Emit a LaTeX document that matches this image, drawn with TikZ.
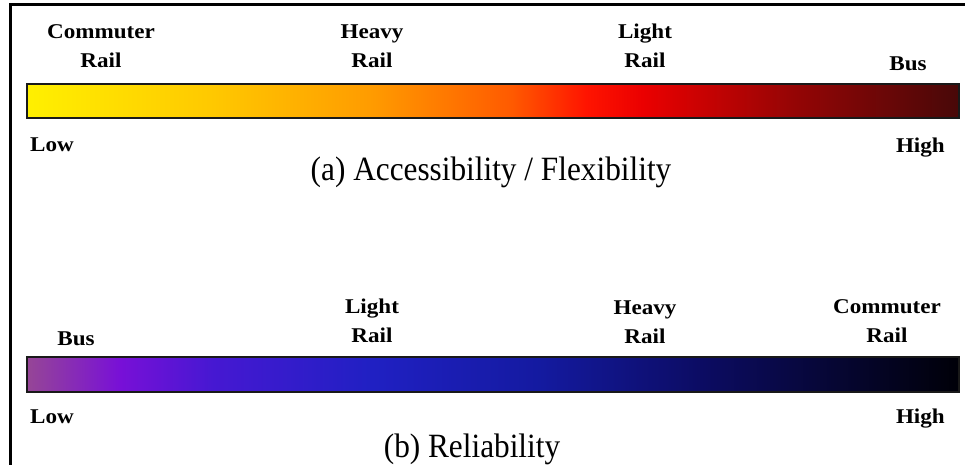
\documentclass[tikz,border=0pt]{standalone}
\usepackage{fontspec}
\setmainfont{Liberation Serif}
\definecolor{wa0}{RGB}{255,240,0}
\definecolor{wa1}{RGB}{255,200,0}
\definecolor{wa2}{RGB}{255,155,0}
\definecolor{wa3}{RGB}{255,90,0}
\definecolor{wa4}{RGB}{255,20,0}
\definecolor{wa5}{RGB}{235,0,0}
\definecolor{wa6}{RGB}{150,5,5}
\definecolor{wa7}{RGB}{72,8,8}
\definecolor{cb0}{RGB}{150,70,150}
\definecolor{cb1}{RGB}{120,16,215}
\definecolor{cb2}{RGB}{70,24,210}
\definecolor{cb3}{RGB}{32,32,195}
\definecolor{cb4}{RGB}{20,26,160}
\definecolor{cb5}{RGB}{12,12,100}
\definecolor{cb6}{RGB}{6,6,50}
\definecolor{cb7}{RGB}{0,0,8}
\pgfdeclarehorizontalshading{warmbar}{100bp}{%
  color(0bp)=(wa0); color(25bp)=(wa0); color(35bp)=(wa1); color(43.5bp)=(wa2);
  color(51bp)=(wa3); color(55bp)=(wa4); color(58bp)=(wa5); color(66bp)=(wa6); color(75bp)=(wa7); color(100bp)=(wa7)}
\pgfdeclarehorizontalshading{coolbar}{100bp}{%
  color(0bp)=(cb0); color(25bp)=(cb0); color(30bp)=(cb1); color(35bp)=(cb2);
  color(43.5bp)=(cb3); color(52.5bp)=(cb4); color(61bp)=(cb5); color(68.5bp)=(cb6); color(75bp)=(cb7); color(100bp)=(cb7)}
\tikzset{
  lbl/.style={font=\fontsize{21}{29}\selectfont\bfseries, inner sep=0pt, align=center, anchor=base, xscale=1.1},
  endlbl/.style={font=\fontsize{21}{29}\selectfont\bfseries, inner sep=0pt, anchor=base, xscale=1.1},
  ttl/.style={font=\fontsize{34}{38}\selectfont, inner sep=0pt, anchor=base, xscale=0.92},
  bar/.style={draw=black!90, line width=2pt},
  frame/.style={line width=3pt, black}
}
\begin{document}
\begin{tikzpicture}[x=1pt,y=-1pt]
\useasboundingbox (0,0) rectangle (965,465);
% frame
\coordinate (fbl) at (10.5,466);
\coordinate (ftl) at (10.5,4.5);
\coordinate (ftr) at (966,4.5);
\draw[frame] (fbl) -- (ftl) -- (ftr);
% bar (a)
\shade[shading=warmbar] (27,84) rectangle (959,118);
\draw[bar] (27,84) rectangle (959,118);
\node[lbl] (acr) at (101,68) {Commuter\\Rail};
\node[lbl] (ahr) at (372,68) {Heavy\\Rail};
\node[lbl] (alr) at (645,68) {Light\\Rail};
\node[lbl] (abus) at (908,71) {Bus};
\node[endlbl, anchor=base west] (alow) at (30,152) {Low};
\node[endlbl, anchor=base east] (ahigh) at (945,153) {High};
\node[ttl] (atitle) at (491,180) {(a) Accessibility / Flexibility};
% bar (b)
\shade[shading=coolbar] (27,357) rectangle (959,392);
\draw[bar] (27,357) rectangle (959,392);
\node[lbl] (bbus) at (76,345) {Bus};
\node[lbl] (blr) at (372,342) {Light\\Rail};
\node[lbl] (bhr) at (645,343) {Heavy\\Rail};
\node[lbl] (bcr) at (887,342) {Commuter\\Rail};
\node[endlbl, anchor=base west] (blow) at (30,423) {Low};
\node[endlbl, anchor=base east] (bhigh) at (945,423) {High};
\node[ttl] (btitle) at (472,457) {(b) Reliability};
\end{tikzpicture}
\end{document}
